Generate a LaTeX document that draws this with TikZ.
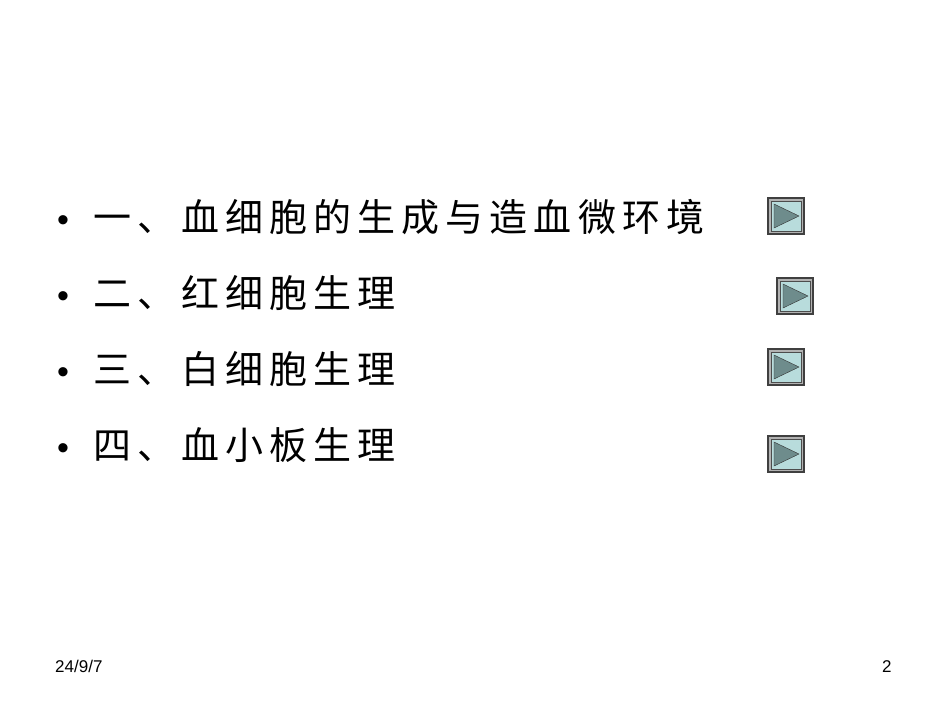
\documentclass[tikz,border=0pt]{standalone}
\usepackage{fontspec}
\setmainfont{Liberation Sans}
\newfontfamily\cjk[LetterSpace=16]{Noto Sans CJK SC}
\definecolor{btnin}{RGB}{184,220,220}
\definecolor{btntri}{RGB}{110,140,140}
\begin{document}
\begin{tikzpicture}[x=1pt,y=-1pt,
  item/.style={anchor=base west,inner sep=0pt,font=\fontsize{38}{38}\selectfont\cjk},
  bul/.style={anchor=base west,inner sep=0pt,font=\fontsize{34}{34}\selectfont},
  foot/.style={anchor=base west,inner sep=0pt,font=\fontsize{17}{17}\selectfont}]
\useasboundingbox[fill=white] (0,0) rectangle (950,713);
\newcommand\btn[3]{%
  \fill[black!75] (#1,#2) rectangle ++(38,38);
  \fill[gray!60] (#1+2,#2+2) rectangle ++(34,34);
  \fill[btnin] (#1+4,#2+4) rectangle ++(30,30);
  \draw[black!70,line width=0.8] (#1+4,#2+4) rectangle ++(30,30);
  \draw[fill=btntri,draw=black!80] (#1+7,#2+7) -- (#1+32,#2+19) -- (#1+7,#2+31) -- cycle;
  \coordinate (#3) at (#1,#2);}
\foreach \y/\t [count=\i] in {231/一、血细胞的生成与造血微环境,307/二、红细胞生理,383/三、白细胞生理,459/四、血小板生理}{
  \node[bul] (b\i) at (57,\y) {•};
  \node[item] (t\i) at (93,\y) {\t};
}
\btn{767}{197}{k1}
\btn{776}{277}{k2}
\btn{767}{348}{k3}
\btn{767}{435}{k4}
\node[foot] (d) at (55,672) {24/9/7};
\node[foot] (p) at (882,672) {2};
\end{tikzpicture}
\end{document}
